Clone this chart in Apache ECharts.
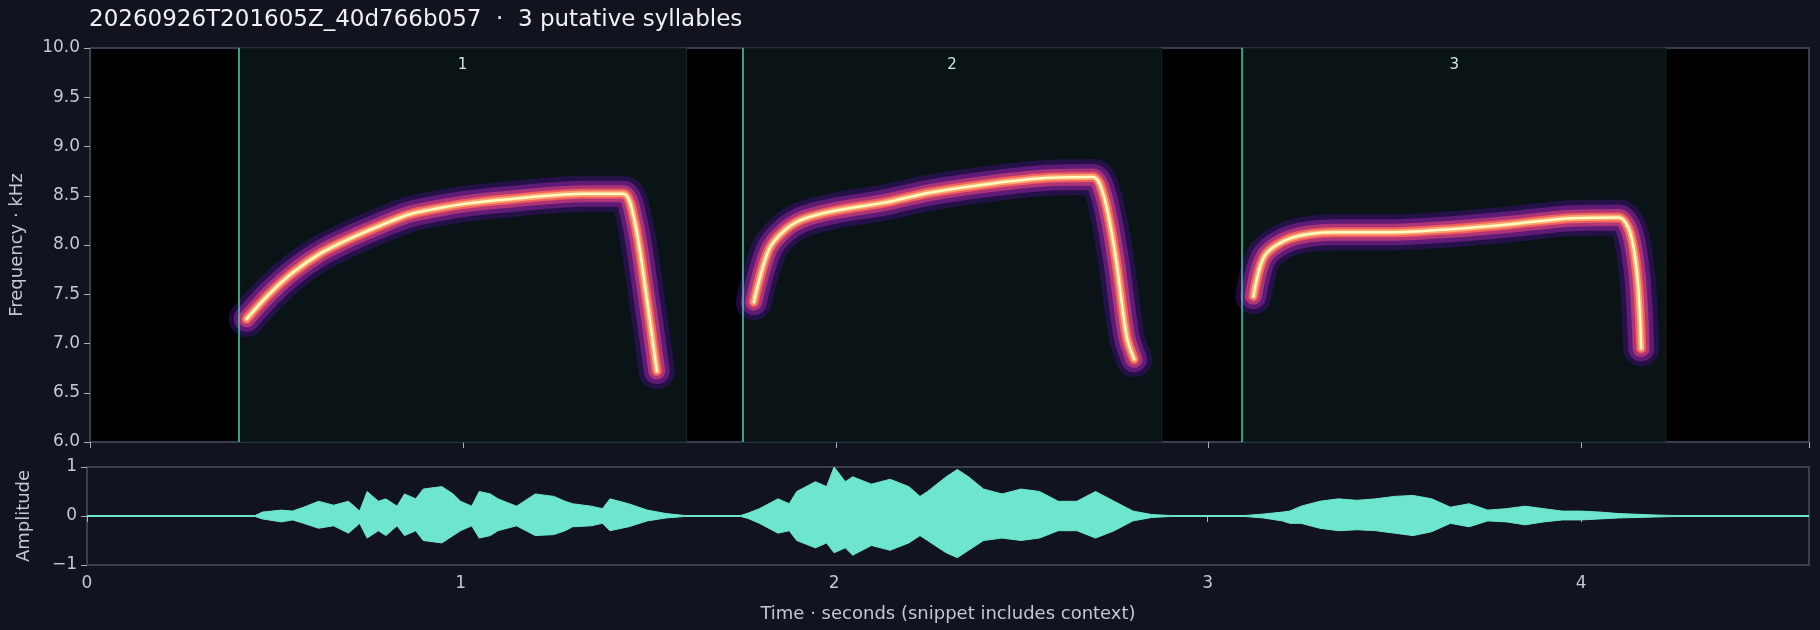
<!doctype html>
<html lang="en">
<head>
<meta charset="UTF-8">
<script src="https://cdn.jsdelivr.net/npm/echarts@6/dist/echarts.min.js"></script>
<style>html,body{margin:0;background:#11131f;}#main{width:1820px;height:630px;}</style>
</head>
<body>
<div id="main"></div>
<script>
// syllable bounds (seconds)
var syllables = [[0.398, 1.60], [1.75, 2.874], [3.092, 4.226]];
var syllableNames = ['1', '2', '3'];

// ridge of each syllable: [time s, freq kHz]
var ridge1 = [[0.42,7.25],[0.48,7.50],[0.544,7.72],[0.62,7.92],[0.70,8.07],[0.78,8.20],[0.855,8.31],[0.93,8.37],[1.01,8.42],[1.165,8.48],[1.32,8.52],[1.43,8.52],[1.46,8.25],[1.49,7.54],[1.52,6.72]];
var ridge2 = [[1.78,7.42],[1.82,7.95],[1.86,8.14],[1.91,8.26],[2.0,8.35],[2.13,8.43],[2.25,8.53],[2.41,8.62],[2.56,8.68],[2.69,8.69],[2.72,8.48],[2.75,7.89],[2.78,7.07],[2.80,6.84]];
var ridge3 = [[3.12,7.48],[3.15,7.89],[3.22,8.07],[3.34,8.13],[3.50,8.13],[3.65,8.16],[3.81,8.21],[3.96,8.27],[4.10,8.28],[4.13,8.13],[4.15,7.66],[4.16,6.95]];

// waveform envelope: [time s, amplitude]
var envUpper = [[0,0.01],[0.45,0.01],[0.47,0.08],[0.52,0.12],[0.55,0.10],[0.58,0.18],[0.62,0.3],[0.66,0.22],[0.70,0.3],[0.73,0.1],[0.75,0.5],[0.78,0.3],[0.80,0.35],[0.83,0.2],[0.85,0.45],[0.88,0.35],[0.90,0.55],[0.95,0.6],[0.98,0.45],[1.0,0.3],[1.03,0.2],[1.05,0.5],[1.08,0.45],[1.1,0.35],[1.15,0.2],[1.2,0.45],[1.25,0.4],[1.28,0.3],[1.3,0.25],[1.35,0.2],[1.38,0.15],[1.4,0.35],[1.45,0.25],[1.5,0.12],[1.55,0.05],[1.6,0.01],[1.75,0.01],[1.77,0.06],[1.8,0.15],[1.85,0.35],[1.88,0.25],[1.9,0.5],[1.95,0.7],[1.98,0.6],[2.0,1.0],[2.03,0.7],[2.05,0.8],[2.1,0.65],[2.15,0.75],[2.2,0.6],[2.23,0.4],[2.25,0.5],[2.3,0.8],[2.33,0.95],[2.36,0.8],[2.4,0.55],[2.45,0.45],[2.5,0.55],[2.55,0.5],[2.6,0.3],[2.65,0.3],[2.7,0.5],[2.75,0.3],[2.8,0.1],[2.85,0.03],[2.9,0.01],[3.1,0.01],[3.15,0.04],[3.2,0.08],[3.22,0.1],[3.25,0.2],[3.3,0.3],[3.35,0.35],[3.4,0.32],[3.45,0.35],[3.5,0.4],[3.55,0.42],[3.6,0.35],[3.65,0.18],[3.7,0.25],[3.75,0.12],[3.8,0.15],[3.85,0.2],[3.9,0.15],[3.95,0.1],[4.0,0.1],[4.05,0.08],[4.1,0.05],[4.2,0.02],[4.25,0.01],[4.61,0.01]];
var envLower = [[0,-0.01],[0.45,-0.01],[0.47,-0.06],[0.52,-0.12],[0.55,-0.08],[0.58,-0.15],[0.62,-0.25],[0.66,-0.2],[0.70,-0.35],[0.73,-0.15],[0.75,-0.45],[0.78,-0.3],[0.80,-0.4],[0.83,-0.2],[0.85,-0.4],[0.88,-0.3],[0.90,-0.5],[0.95,-0.55],[0.98,-0.4],[1.0,-0.3],[1.03,-0.2],[1.05,-0.45],[1.08,-0.4],[1.1,-0.3],[1.15,-0.2],[1.2,-0.4],[1.25,-0.38],[1.28,-0.3],[1.3,-0.22],[1.35,-0.2],[1.38,-0.15],[1.4,-0.3],[1.45,-0.22],[1.5,-0.1],[1.55,-0.04],[1.6,-0.01],[1.75,-0.01],[1.77,-0.05],[1.8,-0.15],[1.85,-0.35],[1.88,-0.3],[1.9,-0.5],[1.95,-0.65],[1.98,-0.55],[2.0,-0.75],[2.03,-0.65],[2.05,-0.8],[2.1,-0.6],[2.15,-0.7],[2.2,-0.55],[2.23,-0.4],[2.25,-0.5],[2.3,-0.75],[2.33,-0.85],[2.36,-0.7],[2.4,-0.5],[2.45,-0.45],[2.5,-0.5],[2.55,-0.45],[2.6,-0.3],[2.65,-0.3],[2.7,-0.45],[2.75,-0.3],[2.8,-0.1],[2.85,-0.03],[2.9,-0.01],[3.1,-0.01],[3.15,-0.04],[3.2,-0.1],[3.22,-0.15],[3.25,-0.15],[3.3,-0.25],[3.35,-0.3],[3.4,-0.28],[3.45,-0.3],[3.5,-0.35],[3.55,-0.4],[3.6,-0.32],[3.65,-0.15],[3.7,-0.22],[3.75,-0.1],[3.8,-0.12],[3.85,-0.18],[3.9,-0.12],[3.95,-0.08],[4.0,-0.08],[4.05,-0.06],[4.1,-0.04],[4.2,-0.02],[4.25,-0.01],[4.61,-0.01]];

var yTicksSpec = [6, 10];
var yTicksWave = [-1, 1];
var tMax = 4.61;

var axisGrey = '#3a3f50';
var labelCol = '#c3c7d3';
var teal = '#6ee6cf';

// glow layers of the ridges, outside in (magma colours)
var glow = [
    {w: 36, c: 'rgba(59,15,112,0.55)'},
    {w: 26, c: 'rgba(110,30,130,0.8)'},
    {w: 17, c: 'rgba(183,55,121,0.9)'},
    {w: 10, c: '#f0605d'},
    {w: 6,  c: '#fea772'},
    {w: 2.5, c: '#fcfdbf'}
];

var series = [{
    type: 'line', xAxisIndex: 0, yAxisIndex: 0, data: [], silent: true,
    markArea: {
        silent: true,
        itemStyle: {color: '#0a1417', borderColor: '#15282a', borderWidth: 1},
        label: {show: true, position: 'insideTop', distance: 10, color: '#cfe9e2', fontSize: 15, fontFamily: 'DejaVu Sans'},
        data: syllables.map(function (s, i) { return [{xAxis: s[0], name: syllableNames[i]}, {xAxis: s[1]}]; })
    },
    markLine: {
        silent: true, symbol: 'none', label: {show: false},
        lineStyle: {color: '#4fc9a8', width: 1.5, type: 'solid'},
        data: syllables.map(function (s) { return {xAxis: s[0]}; })
    }
}];
[ridge1, ridge2, ridge3].forEach(function (r) {
    glow.forEach(function (g) {
        series.push({type: 'line', xAxisIndex: 0, yAxisIndex: 0, data: r, smooth: 0.3, symbol: 'none', silent: true,
            lineStyle: {width: g.w, color: g.c, cap: 'round', join: 'round'}});
    });
});
series.push({type: 'line', xAxisIndex: 1, yAxisIndex: 1, data: envUpper, symbol: 'none', silent: true,
    lineStyle: {width: 1, color: teal}, areaStyle: {color: teal, opacity: 1, origin: 0}});
series.push({type: 'line', xAxisIndex: 1, yAxisIndex: 1, data: envLower, symbol: 'none', silent: true,
    lineStyle: {width: 1, color: teal}, areaStyle: {color: teal, opacity: 1, origin: 0}});

var myChart = echarts.init(document.getElementById('main'));
myChart.setOption({
    backgroundColor: '#11131f',
    animation: false,
    textStyle: {fontFamily: 'DejaVu Sans'},
    title: {
        text: '20260926T201605Z_40d766b057  ·  3 putative syllables',
        left: 84, top: 4,
        textStyle: {color: '#eef0f5', fontSize: 23, fontWeight: 'normal', fontFamily: 'DejaVu Sans'}
    },
    grid: [
        {left: 87, right: 11, top: 48, height: 394, show: true, backgroundColor: '#000', borderColor: axisGrey, borderWidth: 2},
        {left: 87, right: 11, top: 467, height: 98, show: true, backgroundColor: '#11131f', borderColor: axisGrey, borderWidth: 2}
    ],
    xAxis: [
        {gridIndex: 0, type: 'value', min: 0, max: tMax, interval: 1,
            axisLine: {show: false}, axisTick: {show: true, length: 6, lineStyle: {color: '#aab0bf'}},
            axisLabel: {show: false}, splitLine: {show: false}},
        {gridIndex: 1, type: 'value', min: 0, max: tMax, interval: 1,
            axisLine: {show: false}, axisTick: {show: true, length: 6, lineStyle: {color: '#aab0bf'}},
            axisLabel: {color: labelCol, fontSize: 17, margin: 10, showMaxLabel: false},
            splitLine: {show: false},
            name: 'Time · seconds (snippet includes context)', nameLocation: 'middle', nameGap: 40,
            nameTextStyle: {color: labelCol, fontSize: 18}}
    ],
    yAxis: [
        {gridIndex: 0, type: 'value', min: yTicksSpec[0], max: yTicksSpec[1], interval: 0.5,
            axisLine: {show: false}, axisTick: {show: true, length: 6, lineStyle: {color: '#aab0bf'}},
            axisLabel: {color: labelCol, fontSize: 17, margin: 10, formatter: function (v) { return v.toFixed(1); }},
            splitLine: {show: false},
            name: 'Frequency · kHz', nameLocation: 'middle', nameGap: 64, nameTextStyle: {color: labelCol, fontSize: 18}},
        {gridIndex: 1, type: 'value', min: yTicksWave[0], max: yTicksWave[1], interval: 1,
            axisLine: {show: false}, axisTick: {show: true, length: 6, lineStyle: {color: '#aab0bf'}},
            axisLabel: {color: labelCol, fontSize: 17, margin: 10, formatter: function (v) { return v < 0 ? '−' + (-v) : String(v); }},
            splitLine: {show: false},
            name: 'Amplitude', nameLocation: 'middle', nameGap: 54, nameTextStyle: {color: labelCol, fontSize: 18}}
    ],
    series: series
});
</script>
</body>
</html>
